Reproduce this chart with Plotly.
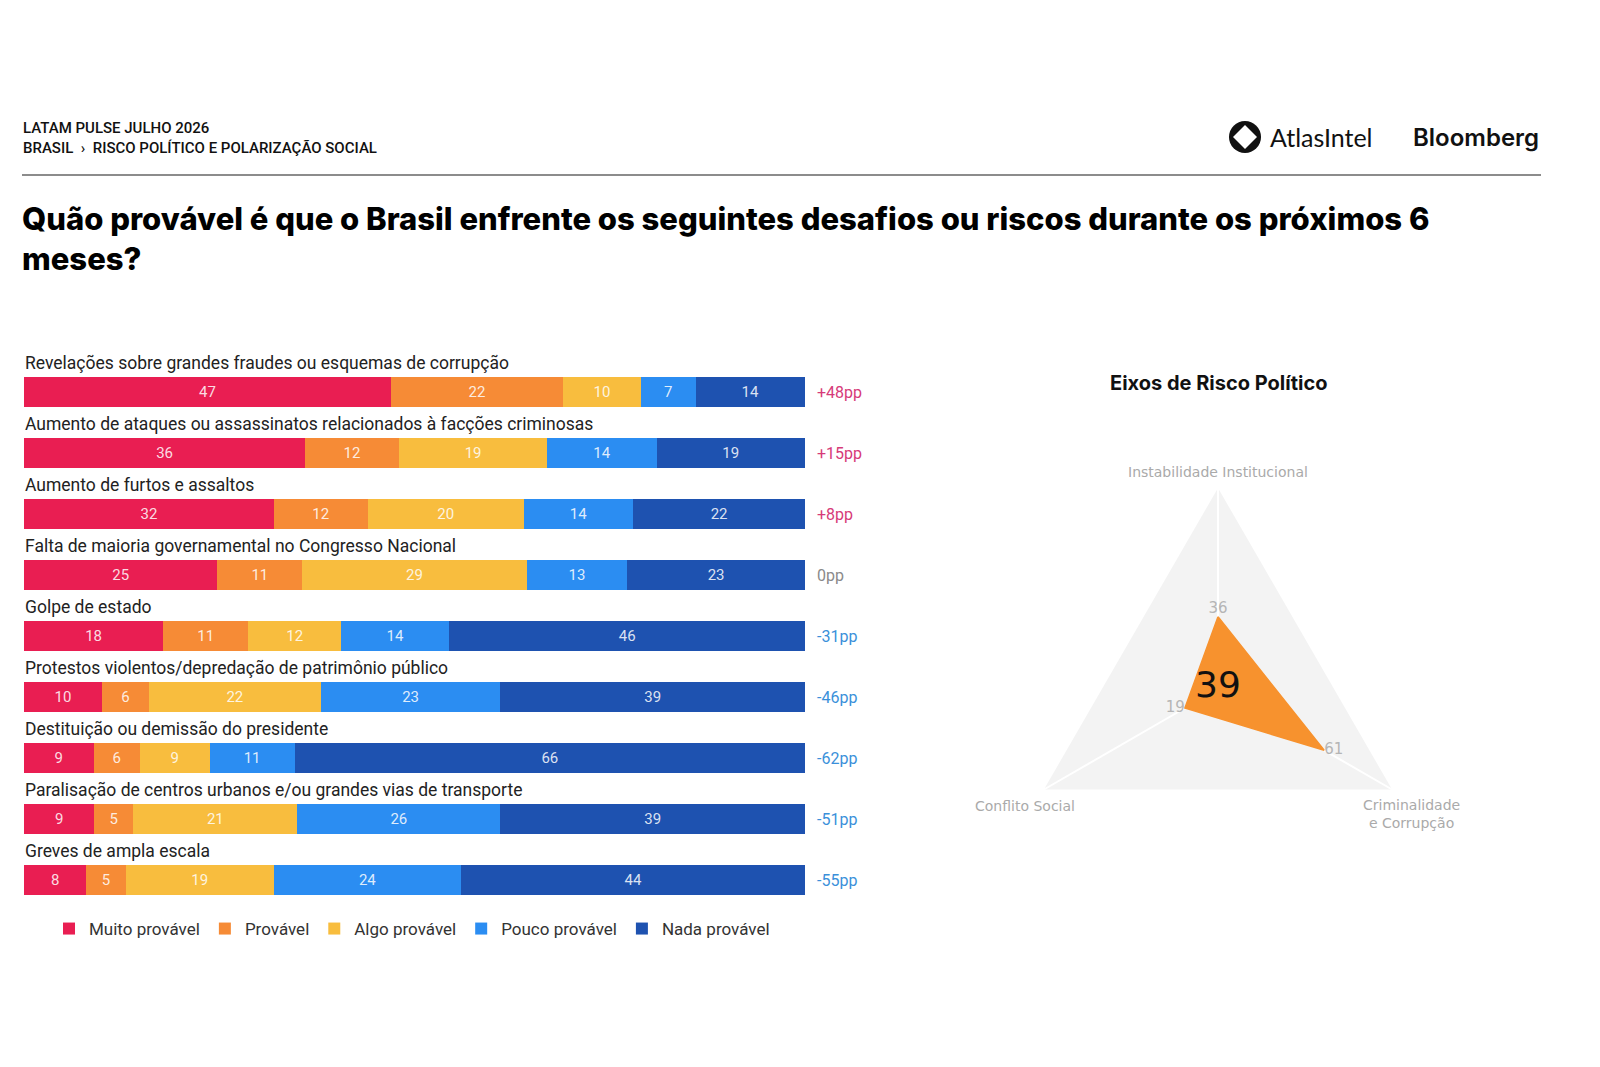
import plotly.graph_objects as go

W, H = 1600, 1067

# dados das barras
categorias = [
    "Revelações sobre grandes fraudes ou esquemas de corrupção",
    "Aumento de ataques ou assassinatos relacionados à facções criminosas",
    "Aumento de furtos e assaltos",
    "Falta de maioria governamental no Congresso Nacional",
    "Golpe de estado",
    "Protestos violentos/depredação de patrimônio público",
    "Destituição ou demissão do presidente",
    "Paralisação de centros urbanos e/ou grandes vias de transporte",
    "Greves de ampla escala",
]
muito_provavel = [47, 36, 32, 25, 18, 10, 9, 9, 8]
provavel = [22, 12, 12, 11, 11, 6, 6, 5, 5]
algo_provavel = [10, 19, 20, 29, 12, 22, 9, 21, 19]
pouco_provavel = [7, 14, 14, 13, 14, 23, 11, 26, 24]
nada_provavel = [14, 19, 22, 23, 46, 39, 66, 39, 44]
saldo_pp = [48, 15, 8, 0, -31, -46, -62, -51, -55]

# dados do radar
eixos = ["Instabilidade Institucional", "Criminalidade e Corrupção", "Conflito Social"]
eixos_rotulos = ["Instabilidade Institucional", "Criminalidade<br>e Corrupção", "Conflito Social"]
valores_eixos = [36, 61, 19]
indice_risco = 39

series = [
    ("Muito provável", muito_provavel, "#E91E52"),
    ("Provável", provavel, "#F68B36"),
    ("Algo provável", algo_provavel, "#F8BD3E"),
    ("Pouco provável", pouco_provavel, "#2B8DF2"),
    ("Nada provável", nada_provavel, "#1E52B0"),
]

FONT = "Roboto"


def px(x):
    return x / W


def py(y):
    return 1 - y / H


fig = go.Figure()

for nome, vals, cor in series:
    fig.add_trace(go.Bar(
        y=categorias, x=vals, name=nome, orientation="h",
        marker=dict(color=cor, line=dict(width=0)),
        text=vals, texttemplate="%{text}", textposition="inside",
        insidetextanchor="middle", textangle=0, constraintext="none",
        textfont=dict(color="rgba(255,255,255,0.85)", size=15, family=FONT),
        hoverinfo="skip",
    ))

# radar
fig.add_trace(go.Scatterpolar(
    r=valores_eixos + [valores_eixos[0]], theta=eixos + [eixos[0]],
    mode="lines", fill="toself", fillcolor="#F7922E",
    line=dict(color="#F7922E", width=1.5), showlegend=False, hoverinfo="skip",
))
fig.add_trace(go.Scatterpolar(
    r=valores_eixos, theta=eixos, mode="text",
    text=[str(v) for v in valores_eixos],
    textposition=["top center", "middle right", "middle left"],
    textfont=dict(color="#b5b5b5", size=15, family="DejaVu Sans"),
    showlegend=False, hoverinfo="skip",
))

# dominio do eixo y: centro da primeira barra em 392px, passo 61px
top_px = 392 - 30.5
bot_px = 392 + 61 * 8 + 30.5

fig.update_layout(
    width=W, height=H,
    margin=dict(l=0, r=0, t=0, b=0),
    paper_bgcolor="white", plot_bgcolor="white",
    barmode="stack", barnorm="percent", bargap=0.5,
    xaxis=dict(domain=[px(24), px(805)], range=[0, 100], visible=False, fixedrange=True),
    yaxis=dict(domain=[py(bot_px), py(top_px)], categoryorder="array",
               categoryarray=categorias, range=[8.5, -0.5], visible=False, fixedrange=True),
    polar=dict(
        domain=dict(x=[px(1218 - 201), px(1218 + 201)], y=[py(689 + 201), py(689 - 201)]),
        gridshape="linear", bgcolor="#f3f3f3",
        radialaxis=dict(range=[0, 100], visible=False, showgrid=False),
        angularaxis=dict(direction="clockwise", rotation=90, showticklabels=False,
                         showline=False, ticks="", gridcolor="white", gridwidth=1.5),
    ),
    legend=dict(orientation="h", x=px(412), xanchor="center", y=py(929), yanchor="middle",
                font=dict(size=17, family=FONT, color="#333"), itemwidth=30,
                traceorder="normal"),
    font=dict(family=FONT),
)

ann = []
for cat, s in zip(categorias, saldo_pp):
    ann.append(dict(x=px(23), xref="paper", y=cat, yref="y", yshift=29,
                    text=cat, showarrow=False, xanchor="left", yanchor="middle",
                    font=dict(size=17.5, color="#222", family=FONT)))
    if s > 0:
        txt, cor = f"+{s}pp", "#D63A78"
    elif s < 0:
        txt, cor = f"-{abs(s)}pp", "#3A90DA"
    else:
        txt, cor = "0pp", "#8a8a8a"
    ann.append(dict(x=px(815), xref="paper", y=cat, yref="y", text=txt,
                    showarrow=False, xanchor="left", yanchor="middle",
                    font=dict(size=16, color=cor, family=FONT)))

# cabecalho
ann += [
    dict(x=px(21), y=py(128), text="LATAM PULSE JULHO 2026", xanchor="left", yanchor="middle",
         font=dict(size=15, color="#111", family=FONT, weight=500)),
    dict(x=px(21), y=py(148), text="BRASIL  ›  RISCO POLÍTICO E POLARIZAÇÃO SOCIAL",
         xanchor="left", yanchor="middle", font=dict(size=15, color="#111", family=FONT, weight=500)),
    dict(x=px(20), y=py(238),
         text="Quão provável é que o Brasil enfrente os seguintes desafios ou riscos durante os próximos 6<br>meses?",
         xanchor="left", yanchor="middle", align="left",
         font=dict(size=31, color="#000", family="Inter", weight=800)),
    dict(x=px(1268), y=py(137), text="AtlasIntel", xanchor="left", yanchor="middle",
         font=dict(size=25, color="#111", family="Lato")),
    dict(x=px(1541), y=py(137), text="Bloomberg", xanchor="right", yanchor="middle",
         font=dict(size=24, color="#111", family="Inter", weight=600)),
    dict(x=px(1218), y=py(383), text="Eixos de Risco Político", xanchor="center", yanchor="middle",
         font=dict(size=20, color="#111", family="Inter", weight=700)),
    dict(x=px(1218), y=py(684), text=str(indice_risco), xanchor="center", yanchor="middle",
         font=dict(size=36, color="#111", family="DejaVu Sans")),
    dict(x=px(1218), y=py(472), text=eixos_rotulos[0], xanchor="center", yanchor="middle",
         font=dict(size=14, color="#aaa", family="DejaVu Sans")),
    dict(x=px(1411), y=py(814), text=eixos_rotulos[1], xanchor="center", yanchor="middle",
         font=dict(size=14, color="#aaa", family="DejaVu Sans")),
    dict(x=px(1025), y=py(806), text=eixos_rotulos[2], xanchor="center", yanchor="middle",
         font=dict(size=14, color="#aaa", family="DejaVu Sans")),
]
for a in ann:
    a.setdefault("xref", "paper")
    a.setdefault("yref", "paper")
    a.setdefault("showarrow", False)
fig.update_layout(annotations=ann)

# linha do cabecalho e logo
cx, cy, r = 1245, 137, 16
k, q = 12, 6
star = (f"M {px(cx)} {py(cy - k)} Q {px(cx + q)} {py(cy - q)} {px(cx + k)} {py(cy)} "
        f"Q {px(cx + q)} {py(cy + q)} {px(cx)} {py(cy + k)} "
        f"Q {px(cx - q)} {py(cy + q)} {px(cx - k)} {py(cy)} "
        f"Q {px(cx - q)} {py(cy - q)} {px(cx)} {py(cy - k)} Z")
fig.update_layout(shapes=[
    dict(type="line", xref="paper", yref="paper", x0=px(22), x1=px(1541), y0=py(175), y1=py(175),
         line=dict(color="#8c8c8c", width=2)),
    dict(type="circle", xref="paper", yref="paper", x0=px(cx - r), x1=px(cx + r),
         y0=py(cy + r), y1=py(cy - r), fillcolor="#111", line=dict(width=0)),
    dict(type="path", xref="paper", yref="paper", path=star, fillcolor="white", line=dict(width=0)),
])

fig.write_html("out.html", config={"displayModeBar": False},
               post_script="document.body.style.margin='0';")
